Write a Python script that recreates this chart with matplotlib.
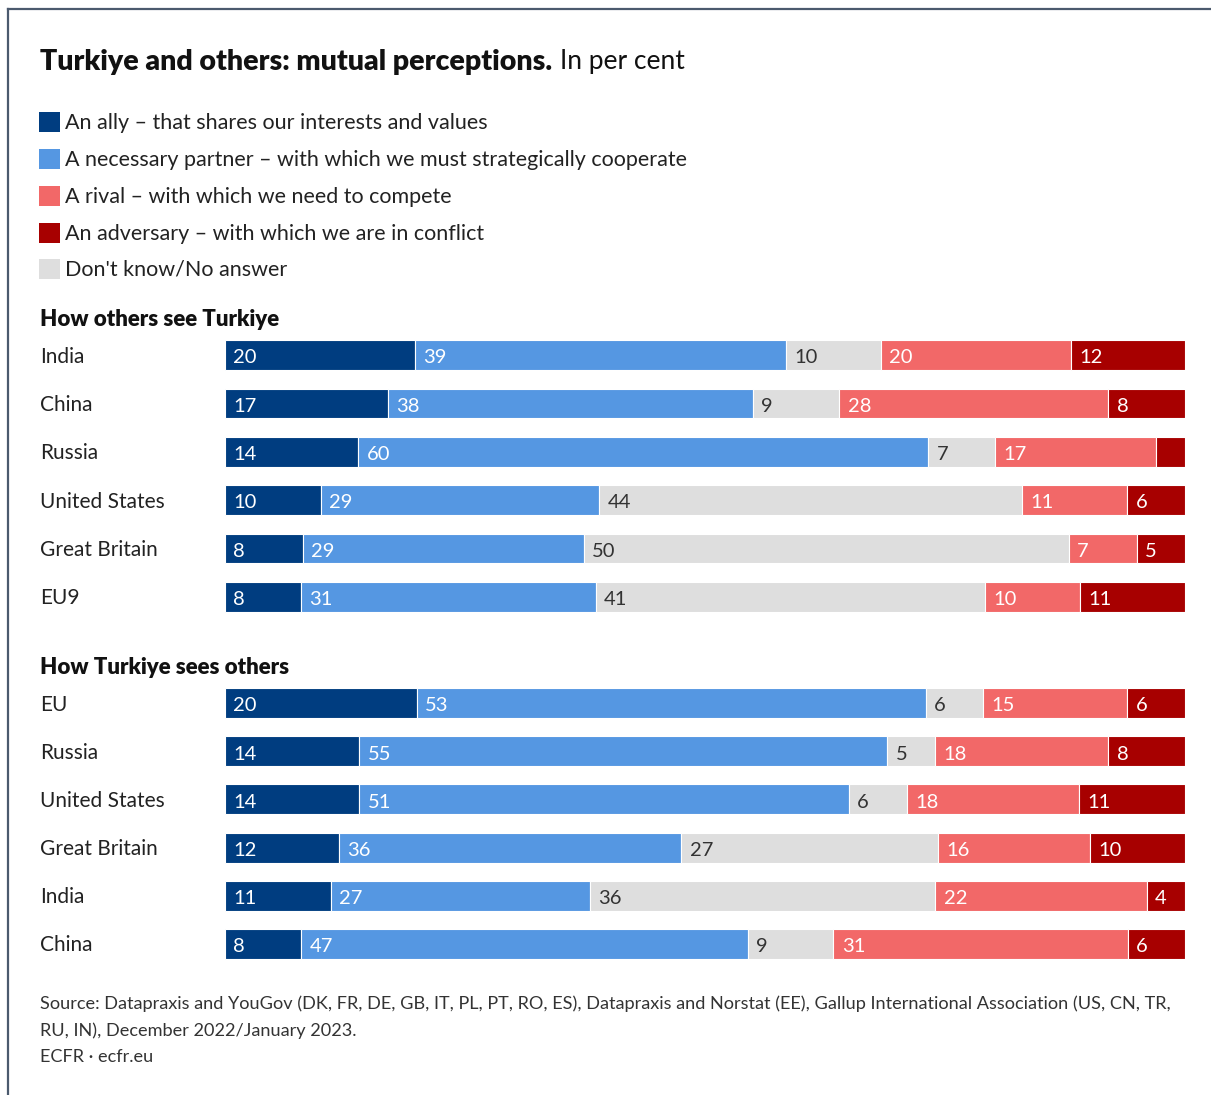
import matplotlib.pyplot as plt
from matplotlib.patches import Rectangle
from matplotlib.lines import Line2D
import matplotlib.transforms as mtransforms

plt.rcParams['font.family'] = ['Lato', 'DejaVu Sans']

categories = [
    "An ally \u2013 that shares our interests and values",
    "A necessary partner \u2013 with which we must strategically cooperate",
    "A rival \u2013 with which we need to compete",
    "An adversary \u2013 with which we are in conflict",
    "Don't know/No answer",
]
colors = ["#003d80", "#5597e2", "#f26868", "#a70000", "#dedede"]

# stacking order in the bars: ally, partner, don't know, rival, adversary
stack_order = [0, 1, 4, 2, 3]

others_labels = ["India", "China", "Russia", "United States", "Great Britain", "EU9"]
others_ally = [20, 17, 14, 10, 8, 8]
others_partner = [39, 38, 60, 29, 29, 31]
others_rival = [20, 28, 17, 11, 7, 10]
others_adversary = [12, 8, 3, 6, 5, 11]
others_dk = [10, 9, 7, 44, 50, 41]

turkiye_labels = ["EU", "Russia", "United States", "Great Britain", "India", "China"]
turkiye_ally = [20, 14, 14, 12, 11, 8]
turkiye_partner = [53, 55, 51, 36, 27, 47]
turkiye_rival = [15, 18, 18, 16, 22, 31]
turkiye_adversary = [6, 8, 11, 10, 4, 6]
turkiye_dk = [6, 5, 6, 27, 36, 9]

W, H = 1211, 1095
fig = plt.figure(figsize=(W / 100, H / 100), dpi=100)


def fx(px):
    return px / W


def fy(py):
    return 1 - py / H


# frame on the left and top edges
fig.add_artist(Line2D([fx(8), fx(8)], [fy(9), 0], color="#4b5a6e", lw=1.6))
fig.add_artist(Line2D([fx(8), 1], [fy(9), fy(9)], color="#4b5a6e", lw=1.6))

# title: bold part followed by regular part
t = fig.text(fx(40), fy(62), "Turkiye and others: mutual perceptions.", fontsize=20.5,
             fontweight="heavy", va="center", ha="left", color="#111111")
renderer = fig.canvas.get_renderer()
bb = t.get_window_extent(renderer)
fig.text(bb.x1 / W + fx(8), fy(62), "In per cent", fontsize=19, va="center",
         ha="left", color="#111111")

# legend
leg_y = [122, 159, 196, 233, 269]
for i, lab in enumerate(categories):
    fig.add_artist(Rectangle((fx(39), fy(leg_y[i] + 10)), fx(21), 20 / H,
                             facecolor=colors[i], edgecolor="none"))
    fig.text(fx(65), fy(leg_y[i] + 1), lab, fontsize=15.5, va="center", ha="left",
             color="#222222")


def draw_panel(rect, title, title_y, labels, series):
    ax = fig.add_axes(rect)
    n = len(labels)
    ys = list(range(n))
    totals = [sum(s[j] for s in series) for j in range(n)]
    for j in range(n):
        left = 0
        for k in stack_order:
            v = series[k][j]
            w = v / totals[j] * 100
            ax.barh(ys[j], w, left=left, height=0.62, color=colors[k],
                    edgecolor="white", linewidth=0.8)
            if v >= 4:
                tc = "#333333" if k == 4 else "white"
                ax.annotate(str(v), (left, ys[j]), xytext=(6, -2),
                            textcoords="offset points", ha="left", va="center",
                            fontsize=14.5, color=tc)
            left += w
    ax.set_xlim(0, 100)
    ax.set_ylim(n - 0.5, -0.5)
    ax.axis("off")
    trans = mtransforms.blended_transform_factory(fig.transFigure, ax.transData)
    for j, lab in enumerate(labels):
        ax.text(fx(40), ys[j] + 0.03, lab, transform=trans, fontsize=15,
                ha="left", va="center", color="#222222")
    fig.text(fx(40), fy(title_y), title, fontsize=16, fontweight="heavy",
             ha="left", va="center", color="#111111")
    return ax


others_series = [others_ally, others_partner, others_rival, others_adversary, others_dk]
turkiye_series = [turkiye_ally, turkiye_partner, turkiye_rival, turkiye_adversary, turkiye_dk]

draw_panel([fx(225), fy(621), fx(1185) - fx(225), (621 - 331) / H],
           "How others see Turkiye", 320, others_labels, others_series)
draw_panel([fx(225), fy(968), fx(1185) - fx(225), (968 - 679) / H],
           "How Turkiye sees others", 667, turkiye_labels, turkiye_series)

fig.text(fx(40), fy(995),
         "Source: Datapraxis and YouGov (DK, FR, DE, GB, IT, PL, PT, RO, ES), Datapraxis and "
         "Norstat (EE), Gallup International Association (US, CN, TR,\nRU, IN), December "
         "2022/January 2023.\nECFR \u00b7 ecfr.eu",
         fontsize=13.05, ha="left", va="top", color="#333333", linespacing=1.8)

fig.savefig("out.png", dpi=100, facecolor="white")
